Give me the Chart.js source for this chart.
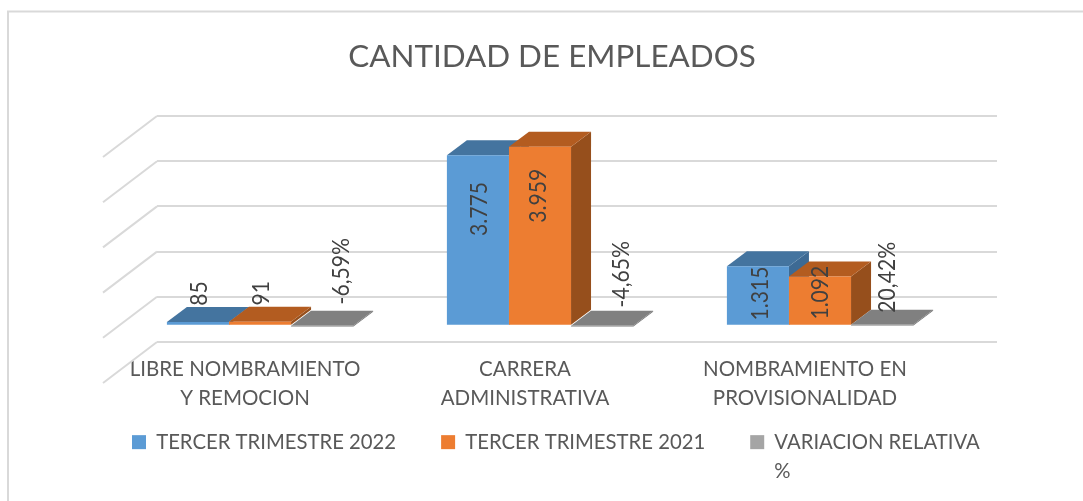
<!DOCTYPE html>
<html><head><meta charset="utf-8">
<style>html,body{margin:0;padding:0;background:#fff}canvas{display:block}</style>
<script src="https://cdn.jsdelivr.net/npm/chart.js@4"></script>
</head><body><canvas id="c" width="1083" height="501"></canvas>
<script>
const categories = [['LIBRE NOMBRAMIENTO','Y REMOCION'],['CARRERA','ADMINISTRATIVA'],['NOMBRAMIENTO EN','PROVISIONALIDAD']];
const seriesNames = ['TERCER TRIMESTRE 2022','TERCER TRIMESTRE 2021','VARIACION RELATIVA %'];
const trimestre2022 = [85,3775,1315];
const trimestre2021 = [91,3959,1092];
const variacion = [-0.0659,-0.0465,0.2042];
const labels2022 = ['85','3.775','1.315'];
const labels2021 = ['91','3.959','1.092'];
const labelsVariacion = ['-6,59%','-4,65%','20,42%'];
const labelNudge = [
  [[1,-30],[1,-31],[2,-2]],
  [[1,-30],[-2,-40],[0,-8]],
  [[19,-55],[19,-52],[5,-48]]
];
const FONT='Lato, Carlito, sans-serif';
const TXT='#595959', GRID='#d9d9d9';
const FRONT=['#5b9bd5','#ed7d31','#a5a5a5'];
const TOP=['#44749f','#b35c20','#808080'];
const SIDE=['#3d6a94','#964f1c','#707070'];
const allLabels=[labels2022,labels2021,labelsVariacion];
// depth geometry
const WALL={dx:-54,dy:41}, BAR={dx:-37,dy:29}, DEPTH={dx:20,dy:-15};

function poly(ctx,pts,fill){ctx.beginPath();pts.forEach((p,i)=>i?ctx.lineTo(p[0],p[1]):ctx.moveTo(p[0],p[1]));ctx.closePath();ctx.fillStyle=fill;ctx.fill();}

const threeD={
  id:'threeD',
  afterLayout(chart){
    chart.titleBlock.left=21;
    chart.titleBlock.right=1083;
    chart.legend.left=87;
    chart.legend.right=1500;
    chart.legend.top=387;
  },
  beforeDraw(chart){
    const c=chart.ctx;c.save();c.strokeStyle=GRID;c.lineWidth=2;
    c.beginPath();c.moveTo(8,501);c.lineTo(8,11.5);c.lineTo(1083,11.5);c.stroke();c.restore();
  },
  beforeDatasetsDraw(chart){
    const c=chart.ctx,y=chart.scales.y,l=chart.chartArea.left;
    c.save();c.strokeStyle=GRID;c.lineWidth=2;
    y.ticks.forEach(t=>{const p=y.getPixelForValue(t.value);
      c.beginPath();c.moveTo(l,p);c.lineTo(l+WALL.dx,p+WALL.dy);c.stroke();});
    c.restore();
    // paint series left to right, each with its depth faces behind its bars
    c.save();c.translate(BAR.dx,BAR.dy);
    chart.data.datasets.forEach((d,i)=>{
      const meta=chart.getDatasetMeta(i);
      meta.data.forEach(b=>{
        const h=b.width/2,L=b.x-h,R=b.x+h,T=Math.min(b.y,b.base),B=Math.max(b.y,b.base);
        poly(c,[[R,B],[R+DEPTH.dx,B+DEPTH.dy],[R+DEPTH.dx,T+DEPTH.dy],[R,T]],SIDE[i]);
        poly(c,[[L,T],[R,T],[R+DEPTH.dx,T+DEPTH.dy],[L+DEPTH.dx,T+DEPTH.dy]],TOP[i]);
      });
      meta.controller.draw();
    });
    c.restore();
  },
  beforeDatasetDraw(){return false;},
  afterDatasetsDraw(chart){
    const c=chart.ctx;
    c.save();c.fillStyle='#404040';c.font='24px '+FONT;c.textAlign='center';c.textBaseline='middle';
    chart.data.datasets.forEach((d,i)=>{
      chart.getDatasetMeta(i).data.forEach((b,j)=>{
        const n=labelNudge[i][j];
        c.save();
        c.translate(b.x+BAR.dx+n[0],(b.y+b.base)/2+BAR.dy+n[1]);
        c.rotate(-Math.PI/2);
        c.scale(0.88,1);
        c.fillText(allLabels[i][j],0,0);
        c.restore();
      });
    });
    c.restore();
  }
};

new Chart(document.getElementById('c'),{
  type:'bar',
  data:{labels:categories,datasets:[
    {label:seriesNames[0],data:trimestre2022,backgroundColor:FRONT[0]},
    {label:seriesNames[1],data:trimestre2021,backgroundColor:FRONT[1]},
    {label:seriesNames[2],data:variacion,backgroundColor:FRONT[2]}
  ]},
  options:{
    responsive:false,animation:false,
    layout:{padding:{left:0,right:86,top:0,bottom:0}},
    datasets:{bar:{categoryPercentage:0.665,barPercentage:1}},
    scales:{
      x:{
        grid:{display:false},border:{display:false},
        ticks:{autoSkip:false,maxRotation:0,minRotation:0,labelOffset:-52,padding:4.5,color:TXT,
               font:{family:FONT,size:20.5,lineHeight:'29px'}},
        afterFit(s){s.height=Math.max(1,159-(s.chart.legend?s.chart.legend.height:0));}
      },
      y:{
        min:-1000,max:4000,
        border:{display:false},
        grid:{color:GRID,lineWidth:2,drawTicks:false},
        ticks:{display:false,stepSize:1000},
        afterFit(s){s.width=157;}
      }
    },
    plugins:{
      tooltip:{enabled:false},
      title:{display:true,text:'CANTIDAD DE EMPLEADOS',color:TXT,
             font:{family:FONT,size:31.4,weight:'normal',lineHeight:'38px'},
             padding:{top:38,bottom:40}},
      legend:{
        display:true,position:'bottom',align:'start',
        labels:{
          boxWidth:14,boxHeight:14,padding:45,color:TXT,
          font:{family:FONT,size:20.3,lineHeight:'29px'},
          generateLabels(chart){
            return chart.data.datasets.map((d,i)=>({
              text:i===2?['VARIACION RELATIVA','%']:d.label,
              fillStyle:FRONT[i],strokeStyle:FRONT[i],lineWidth:0,datasetIndex:i,fontColor:TXT
            }));
          }
        }
      }
    }
  },
  plugins:[threeD]
});
</script></body></html>
